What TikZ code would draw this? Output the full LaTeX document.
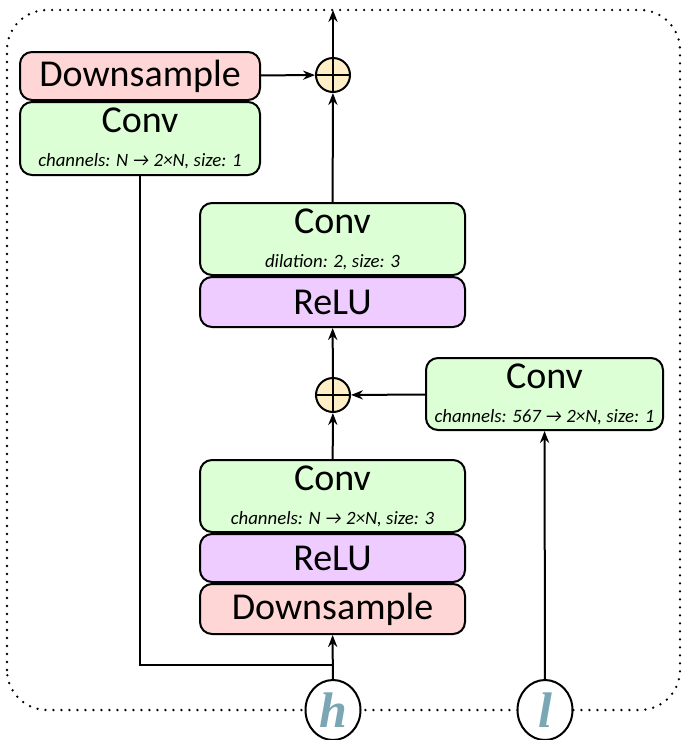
\documentclass[tikz,border=0pt]{standalone}
\usepackage{fontspec}
\setmainfont{Carlito}
\newfontfamily\varfont{Liberation Serif}
\usetikzlibrary{positioning,arrows.meta,shapes.geometric}
\definecolor{downpink}{HTML}{FFD6D6}
\definecolor{convgreen}{HTML}{DDFFD6}
\definecolor{relupurple}{HTML}{EECCFF}
\definecolor{addyellow}{HTML}{FFEEC6}
\definecolor{varteal}{HTML}{7AA7B3}
\newcommand{\bigtext}{\fontsize{19}{21}\selectfont}
\newcommand{\subtext}{\fontsize{9.4}{11}\selectfont\itshape}
\tikzset{
  block/.style={draw, line width=1pt, rounded corners=6pt, align=center, inner sep=0pt, font=\bigtext},
  downbox/.style={block, fill=downpink},
  convbox/.style={block, fill=convgreen},
  relubox/.style={block, fill=relupurple},
  addop/.style={circle, draw, line width=1pt, fill=addyellow, minimum size=17pt, inner sep=0pt,
    path picture={\draw[line width=1pt] (path picture bounding box.north) -- (path picture bounding box.south)
      (path picture bounding box.west) -- (path picture bounding box.east);}},
  varnode/.style={ellipse, draw, line width=1pt, fill=white, minimum width=27.5pt, minimum height=30pt,
    inner sep=0pt, font=\fontsize{25}{25}\selectfont\varfont\bfseries\itshape, text=varteal},
  conn/.style={line width=1pt}
}
\begin{document}
\begin{tikzpicture}[>={Stealth[length=6pt,width=4.6pt,inset=2pt]}, x=0.5pt, y=-0.5pt]
\useasboundingbox (0,0) rectangle (685,740);
% dotted frame
\draw[line width=1.3pt, dash pattern=on 0pt off 4pt, line cap=round, rounded corners=20pt]
  (7,710) -- (7,10) -- (680,10) -- (680,710) -- cycle;

% skip branch (top left)
\node[downbox, minimum width=120pt, minimum height=24pt] (dsskip) at (140,76) {Downsample};
\node[convbox, below=0pt of dsskip, minimum width=120pt, minimum height=36.5pt] (convskip)
  {Conv\\[-4pt]{\subtext channels: N → 2×N, size: 1}};
\node[addop] (addtop) at (333,75) {};
\coordinate (out) at (333,10);

% dilated conv
\node[convbox, minimum width=132.5pt, minimum height=36pt] (convmid) at (332.5,239)
  {Conv\\[-4pt]{\subtext dilation: 2, size: 3}};
\node[relubox, below=0pt of convmid, minimum width=132.5pt, minimum height=25pt] (relumid) {ReLU};
\node[addop] (addmid) at (333,395) {};

% local conditioning
\node[convbox, minimum width=118.5pt, minimum height=36pt] (convcond) at (544.5,394)
  {Conv\\[-4pt]{\subtext channels: 567 → 2×N, size: 1}};

% lower stack
\node[convbox, minimum width=132.5pt, minimum height=36pt] (convlow) at (332.5,496)
  {Conv\\[-4pt]{\subtext channels: N → 2×N, size: 3}};
\node[relubox, below=0pt of convlow, minimum width=132.5pt, minimum height=24pt] (relulow) {ReLU};
\node[downbox, below=0pt of relulow, minimum width=132.5pt, minimum height=25pt] (dslow) {Downsample};

% inputs
\node[varnode] (hin) at (333,710) {h};
\node[varnode] (lin) at (545,710) {l};
\coordinate (join) at (333,665);

\draw[conn,->] (hin) -- (dslow);
\draw[conn] (convskip.south) |- (join);
\draw[conn,->] (lin) -- (convcond);
\draw[conn,->] (convcond) -- (addmid);
\draw[conn,->] (convlow) -- (addmid);
\draw[conn,->] (addmid) -- (relumid);
\draw[conn,->] (convmid) -- (addtop);
\draw[conn,->] (dsskip) -- (addtop);
\draw[conn,->] (addtop) -- (out);
\end{tikzpicture}
\end{document}
